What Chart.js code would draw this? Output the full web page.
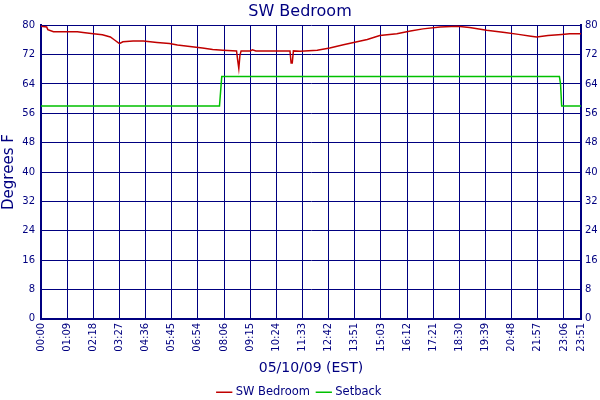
<!DOCTYPE html>
<html>
<head>
<meta charset="utf-8">
<script src="https://cdn.jsdelivr.net/npm/chart.js@4"></script>
<style>
  html, body { margin: 0; padding: 0; background: #fff; }
  #wrap { width: 600px; height: 400px; }
</style>
</head>
<body>
<div id="wrap"><canvas id="chart" width="600" height="400"></canvas></div>
<script>
// sample index (3-minute steps), tick every 23 samples, last at 475
var tickPos = [0, 23, 46, 69, 92, 115, 138, 161, 184, 207, 230, 253, 276, 299, 322, 345, 368, 391, 414, 437, 460, 475];
var tickLabels = ['00:00', '01:09', '02:18', '03:27', '04:36', '05:45', '06:54', '08:06', '09:15', '10:24', '11:33',
  '12:42', '13:51', '15:03', '16:12', '17:21', '18:30', '19:39', '20:48', '21:57', '23:06', '23:51'];

var roomX = [0, 5, 6, 11, 32, 37, 46, 54, 61, 65, 69, 72, 81, 90, 102, 113, 120, 131, 142, 151, 160,
  172, 173, 174, 175, 176, 184, 186, 189, 219, 220, 221, 222, 228, 243, 254, 266, 278, 287, 298, 313, 325,
  336, 351, 366, 377, 392, 408, 420, 431, 436, 446, 458, 465, 475];
var roomY = [79.7, 79.5, 78.8, 78.2, 78.2, 78.0, 77.7, 77.4, 76.8, 75.9, 75.0, 75.5, 75.7, 75.7, 75.3, 75.0, 74.6, 74.2, 73.8, 73.4, 73.2,
  73.0, 70.5, 68.2, 71.8, 73.0, 73.0, 73.3, 73.0, 73.0, 69.7, 69.7, 73.0, 72.9, 73.2, 73.8, 74.7, 75.5, 76.1, 77.2, 77.7, 78.4,
  79.0, 79.5, 79.7, 79.4, 78.6, 78.0, 77.5, 77.0, 76.8, 77.2, 77.5, 77.7, 77.7];

var setX = [0, 157, 158, 159, 456, 457, 458, 475];
var setY = [58, 58, 62, 66, 66, 64, 58, 58];

var navy = '#000080';
var font = 'DejaVu Sans';

function toPoints(xs, ys) {
  return xs.map(function (x, i) { return { x: x, y: ys[i] }; });
}

function labelFor(v) {
  var i = tickPos.indexOf(v);
  return i === -1 ? '' : tickLabels[i];
}

new Chart(document.getElementById('chart').getContext('2d'), {
  type: 'line',
  data: {
    datasets: [
      {
        label: 'SW Bedroom',
        data: toPoints(roomX, roomY),
        borderColor: '#c00000',
        backgroundColor: '#c00000',
        borderWidth: 1.5,
        pointRadius: 0,
        tension: 0
      },
      {
        label: 'Setback',
        data: toPoints(setX, setY),
        borderColor: '#00c000',
        backgroundColor: '#00c000',
        borderWidth: 1.5,
        pointRadius: 0,
        tension: 0
      }
    ]
  },
  options: {
    responsive: false,
    animation: false,
    layout: { padding: { left: 0, right: 0, top: 0, bottom: -8 } },
    plugins: {
      title: {
        display: true,
        text: 'SW Bedroom',
        color: navy,
        font: { family: font, size: 16, weight: 'normal' },
        padding: { top: 2, bottom: 4 }
      },
      legend: {
        position: 'bottom',
        labels: {
          color: navy,
          font: { family: font, size: 11.5 },
          usePointStyle: true,
          pointStyle: 'line',
          boxWidth: 12,
          padding: 8
        }
      },
      tooltip: { enabled: false }
    },
    scales: {
      x: {
        type: 'linear',
        min: 0,
        max: 475,
        afterBuildTicks: function (axis) {
          axis.ticks = tickPos.map(function (v) { return { value: v }; });
        },
        ticks: {
          color: navy,
          font: { family: font, size: 10 },
          minRotation: 90,
          maxRotation: 90,
          autoSkip: false,
          padding: 4,
          callback: function (v) { return labelFor(v); }
        },
        grid: { color: navy, lineWidth: 1, drawTicks: false },
        border: { color: navy, width: 2 },
        title: {
          display: true,
          text: '05/10/09 (EST)',
          color: navy,
          font: { family: font, size: 14 },
          padding: { top: 4, bottom: 2 }
        }
      },
      y: {
        position: 'left',
        min: 0,
        max: 80,
        afterFit: function (scale) { scale.width = 41; },
        ticks: {
          stepSize: 8,
          color: navy,
          font: { family: font, size: 10 },
          padding: 6
        },
        grid: { color: navy, lineWidth: 1, drawTicks: false },
        border: { color: navy, width: 2 },
        title: {
          display: true,
          text: 'Degrees F',
          color: navy,
          font: { family: font, size: 15 },
          padding: { top: 0, bottom: 2 }
        }
      },
      y2: {
        position: 'right',
        min: 0,
        max: 80,
        afterFit: function (scale) { scale.width = 19; },
        ticks: {
          stepSize: 8,
          color: navy,
          font: { family: font, size: 10 },
          padding: 4
        },
        grid: { display: false, drawTicks: false },
        border: { color: navy, width: 2 }
      }
    }
  }
});
</script>
</body>
</html>
